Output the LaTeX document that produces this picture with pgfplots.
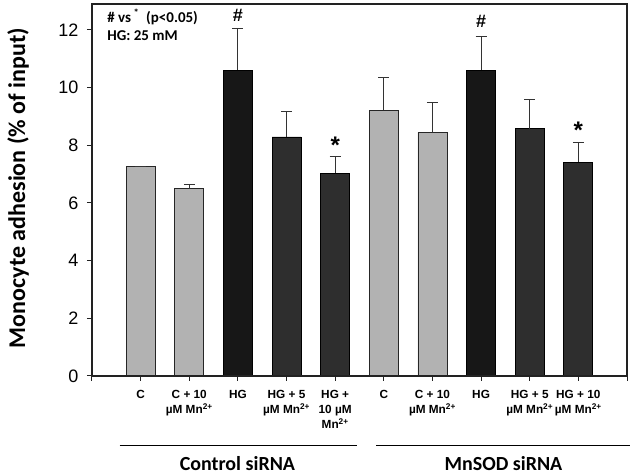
\documentclass[border=0pt]{standalone}
\usepackage{pgfplots}
\pgfplotsset{compat=1.18}
\usepackage{fontspec}
\setmainfont{Liberation Sans}
\newfontfamily\carlito{Carlito}
\definecolor{lightbar}{HTML}{B2B2B2}
\definecolor{blackbar}{HTML}{171717}
\definecolor{darkbar}{HTML}{2E2E2E}
\definecolor{frame}{HTML}{222222}
\begin{document}
\begin{tikzpicture}
\begin{axis}[
  at={(0,0)}, anchor=south west,
  scale only axis, width=535pt, height=372pt,
  xmin=-1, xmax=10, ymin=0, ymax=12.9,
  axis line style={draw=frame, line width=1.5pt},
  tick align=outside,
  xtick pos=bottom, ytick pos=left,
  major tick length=5pt,
  tick style={draw=frame, line width=1pt},
  xtick={-1,0,1,2,3,4,5,6,7,8,9,10},
  xticklabels={,
    C,
    {C + 10\\µM Mn\textsuperscript{2+}},
    HG,
    {HG + 5\\µM Mn\textsuperscript{2+}},
    {HG +\\10 µM\\Mn\textsuperscript{2+}},
    C,
    {C + 10\\µM Mn\textsuperscript{2+}},
    HG,
    {HG + 5\\µM Mn\textsuperscript{2+}},
    {HG + 10\\µM Mn\textsuperscript{2+}},
  },
  xticklabel style={font=\bfseries\fontsize{11.8}{15}\selectfont, align=center, anchor=north, yshift=-6pt},
  ytick={0,2,4,6,8,10,12},
  yticklabel style={font=\fontsize{18}{20}\selectfont, xshift=-5pt},
  /pgf/number format/assume math mode=true,
  every axis y label/.style={at={(axis description cs:-0.138,0.505)}, rotate=90, anchor=center},
  ylabel={\carlito\bfseries\fontsize{24}{26}\selectfont Monocyte adhesion (\% of input)},
  clip=false,
  ybar, bar width=29pt,
  error bars/y dir=plus, error bars/y explicit,
  error bars/error bar style={draw=black!80, line width=1pt},
  error bars/error mark options={rotate=90, mark size=5.5pt, draw=black!80, line width=1pt},
]
\addplot[bar shift=0pt, fill=lightbar, draw=black!85, line width=0.8pt]
  coordinates {(0,7.28) +- (0,0) (1,6.50) +- (0,0.14) (5,9.22) +- (0,1.12) (6,8.45) +- (0,1.03)};
\addplot[bar shift=0pt, fill=blackbar, draw=black, line width=0.8pt]
  coordinates {(2,10.61) +- (0,1.45) (7,10.61) +- (0,1.15)};
\addplot[bar shift=0pt, fill=darkbar, draw=black, line width=0.8pt]
  coordinates {(3,8.29) +- (0,0.88) (4,7.03) +- (0,0.58) (8,8.58) +- (0,1.00) (9,7.42) +- (0,0.68)};
\draw[draw=frame, line width=1.5pt] (axis cs:-1,0) -- (axis cs:-1,12.9) -- (axis cs:10,12.9) -- (axis cs:10,0) -- cycle;
\node[font=\bfseries\fontsize{18}{20}\selectfont] at (axis cs:2,12.52) {\#};
\node[font=\bfseries\fontsize{18}{20}\selectfont] at (axis cs:7,12.30) {\#};
\node[font=\bfseries\fontsize{24}{26}\selectfont, anchor=base] at (axis cs:4,7.72) {*};
\node[font=\bfseries\fontsize{24}{26}\selectfont, anchor=base] at (axis cs:9,8.24) {*};
\node[font=\carlito\bfseries\fontsize{15}{17}\selectfont, anchor=west] at (axis description cs:0.022,0.965) {\# vs\,\textsuperscript{*}\ \ (p<0.05)};
\node[font=\carlito\bfseries\fontsize{15}{17}\selectfont, anchor=west] at (axis description cs:0.022,0.914) {HG: 25 mM};
\draw[line width=1.8pt, black] (axis cs:-0.43,-2.41) -- (axis cs:4.45,-2.41);
\draw[line width=1.8pt, black] (axis cs:4.84,-2.41) -- (axis cs:10.07,-2.41);
\node[font=\carlito\bfseries\fontsize{20}{22}\selectfont, anchor=base, inner sep=0pt] at (axis cs:1.99,-3.27) {Control siRNA};
\node[font=\carlito\bfseries\fontsize{20}{22}\selectfont, anchor=base, inner sep=0pt] at (axis cs:7.46,-3.27) {MnSOD siRNA};
\end{axis}
\path (-92pt,-100pt) rectangle (541pt,376pt);
\end{tikzpicture}
\end{document}
